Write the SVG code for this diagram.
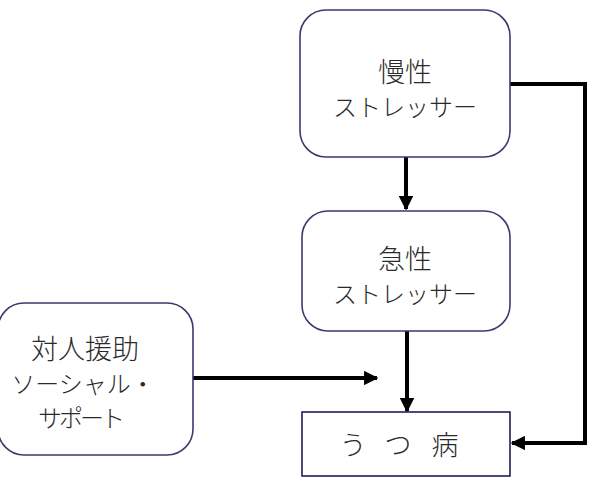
<svg xmlns="http://www.w3.org/2000/svg" width="597" height="478" viewBox="0 0 597 478">
<style>
.box{fill:#fff;stroke:#3a3a6e;stroke-width:1.6}
.t{font-family:"Noto Sans CJK JP","Noto Sans CJK SC",sans-serif;font-size:24px;fill:#2a2a2a;text-anchor:middle;dominant-baseline:central;font-weight:300}
.k{font-size:27px}
.c{fill:none;stroke:#000;stroke-width:4}
</style>
<defs>
<marker id="ah" viewBox="0 0 10 10" refX="9" refY="5" markerWidth="3.6" markerHeight="3.6" orient="auto" markerUnits="strokeWidth">
<path d="M0,0 L10,5 L0,10 z" fill="#000"/>
</marker>
</defs>
<g id="connectors">
<line class="c" x1="406" y1="157" x2="406" y2="209" marker-end="url(#ah)"/>
<line class="c" x1="407" y1="331" x2="407" y2="411" marker-end="url(#ah)"/>
<line class="c" x1="193" y1="378" x2="377" y2="378" marker-end="url(#ah)"/>
<polyline class="c" points="510,84 585,84 585,443 512,443" marker-end="url(#ah)"/>
</g>
<g id="chronic">
<rect class="box" x="300" y="10" width="210" height="147" rx="26"/>
<text class="t"><tspan class="k" x="405" y="70">慢性</tspan><tspan x="405" y="105">ストレッサー</tspan></text>
</g>
<g id="acute">
<rect class="box" x="302" y="211" width="208" height="120" rx="26"/>
<text class="t"><tspan class="k" x="405" y="257">急性</tspan><tspan x="405" y="292">ストレッサー</tspan></text>
</g>
<g id="support">
<rect class="box" x="-2" y="303" width="195" height="152" rx="26"/>
<text class="t"><tspan class="k" x="85" y="347">対人援助</tspan><tspan x="83" y="382">ソーシャル・</tspan><tspan x="80" y="416" letter-spacing="-3">サポート</tspan></text>
</g>
<g id="depression">
<rect x="302" y="412" width="208" height="64" fill="#fff" stroke="#1e1e5a" stroke-width="1.6"/>
<text class="t k"><tspan x="353" y="443">う</tspan><tspan x="398" y="443">つ</tspan><tspan x="445" y="443">病</tspan></text>
</g>
</svg>
